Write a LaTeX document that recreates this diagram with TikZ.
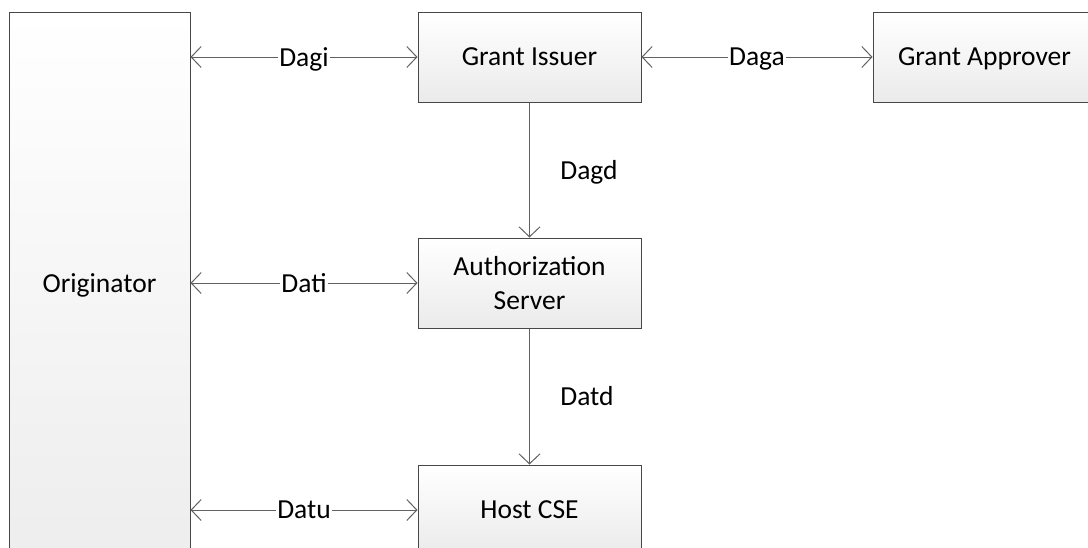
\documentclass[tikz,border=0pt]{standalone}
\usepackage{fontspec}
\setmainfont{Carlito}
\usetikzlibrary{arrows.meta, positioning}

\begin{document}
\begin{tikzpicture}[
    x=1pt, y=-1pt,
    font=\fontsize{27.5}{34.3}\selectfont,
    box/.style={rectangle, draw=black!72, line width=1pt, top color=white, bottom color=black!8, minimum width=223pt, minimum height=90pt, align=center, inner sep=0pt},
    link/.style={{Straight Barb[length=10pt,width=21pt]}-{Straight Barb[length=10pt,width=21pt]}, draw=black!62, line width=1pt},
    flow/.style={-{Straight Barb[length=10pt,width=21pt]}, draw=black!62, line width=1pt},
    lbl/.style={fill=white, inner sep=1pt, text depth=0pt}
]
\useasboundingbox (0,0) rectangle (1088,547);
\clip (0,0) rectangle (1088,547);

\node[box, minimum width=181pt, minimum height=546pt, bottom color=black!7] (orig) at (99.5,285) {Originator};
\node[box] (gi) at (529.5,57) {Grant Issuer};
\node[box, below=135pt of gi] (as) {Authorization\\Server};
\node[box, below=136pt of as] (hc) {Host CSE};
\node[box, right=231pt of gi, text depth=0pt] (ga) {Grant Approver};

\draw[link] (orig.east |- gi.west) -- node[lbl] {Dagi} (gi.west);
\draw[link] (gi) -- node[lbl] {Daga} (ga);
\draw[flow] (gi) -- node[right=27pt, text depth=0pt] {Dagd} (as);
\draw[link] (orig.east |- as.west) -- node[lbl] {Dati} (as.west);
\draw[flow] (as) -- node[right=27pt] {Datd} (hc);
\draw[link] (orig.east |- hc.west) -- node[lbl] {Datu} (hc.west);

\end{tikzpicture}
\end{document}
